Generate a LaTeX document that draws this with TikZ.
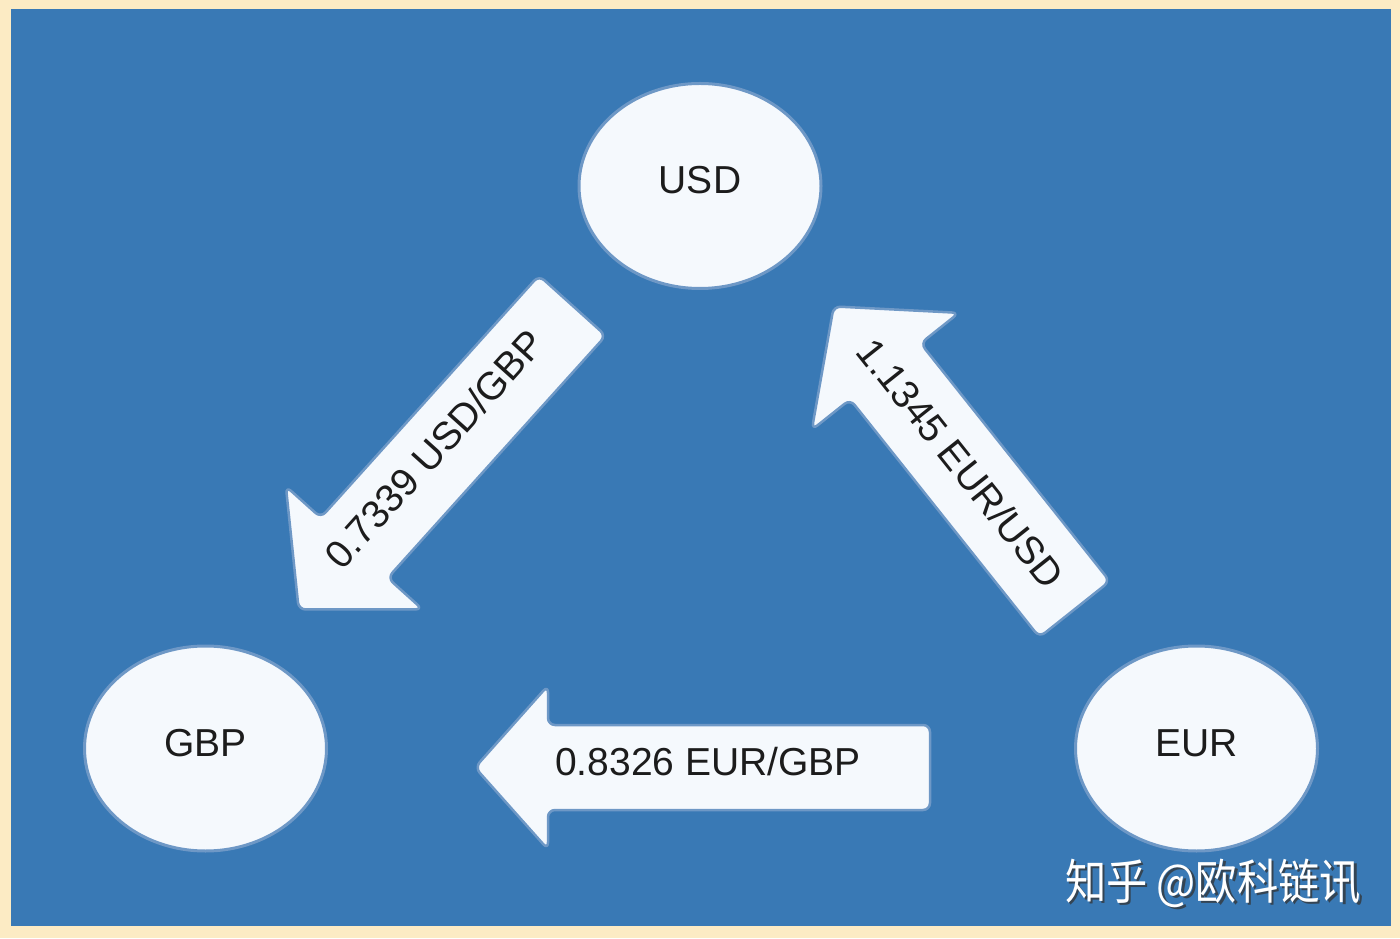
\documentclass[tikz,border=0pt]{standalone}
\usepackage{fontspec}
\setmainfont{Liberation Sans}
\newfontfamily\cjk{Noto Sans CJK SC}
\usetikzlibrary{shapes.geometric}
\definecolor{bgblue}{HTML}{3979B5}
\definecolor{cream}{HTML}{FCEBC4}
\definecolor{shapefill}{HTML}{F5F9FD}
\definecolor{edgeblue}{HTML}{6E98C6}
\definecolor{txt}{HTML}{1C1C1C}
% #1 tip x, #2 tip y, #3 angle, #4 length, #5 head half width, #6 head length, #7 shaft half width
\newcommand{\blockarrow}[7]{%
  \begin{scope}[shift={(#1,#2)}, rotate=#3]
    \draw[arrowbox] (0,0) -- (-#6,#5) -- (-#6,#7) -- (-#4,#7) -- (-#4,-#7)
      -- (-#6,-#7) -- (-#6,-#5) -- cycle;
  \end{scope}}
\tikzset{
  arrowbox/.style={fill=shapefill, draw=edgeblue, line width=2.5pt, rounded corners=7pt, line join=round},
  lbl/.style={font=\fontsize{39}{47}\selectfont, text=txt, text height=28pt, text depth=0pt, inner sep=0pt},
  cur/.style={ellipse, fill=shapefill, draw=edgeblue, line width=3pt, minimum width=242pt,
    minimum height=205pt, inner sep=0pt, font=\fontsize{39}{47}\selectfont, text=txt,
    text height=28pt, text depth=12pt},
  wm/.style={font=\cjk\fontsize{48}{56}\selectfont, xscale=0.86, inner sep=0pt}
}
\begin{document}
\begin{tikzpicture}[x=1pt, y=1pt]
  \useasboundingbox (0,0) rectangle (1400,938);
  \fill[cream] (0,0) rectangle (1400,938);
  \fill[bgblue] (11,12) rectangle (1391,929);

  % currencies
  \node[cur] (usd) at (700,752) {USD};
  \node[cur] (gbp) at (205.5,189.5) {GBP};
  \node[cur] (eur) at (1196.5,189.5) {EUR};

  % block arrows
  \blockarrow{298.7}{328.5}{228}{409}{92}{83}{45}
  \blockarrow{833.7}{631.6}{128.5}{387}{94}{83}{45}
  \blockarrow{475}{170.5}{180}{455}{82}{73}{42.5}

  % rates
  \node[lbl, rotate=48] (r1) at (434,489) {0.7339 USD/GBP};
  \node[lbl, rotate=-51.5] (r2) at (961,475) {1.1345 EUR/USD};
  \node[lbl] (r3) at (708,177) {0.8326 EUR/GBP};

  % watermark
  \node[wm, text=black!80, opacity=0.75] (wmshadow) at (1215.5,52.5) {知乎 @欧科链讯};
  \node[wm, text=white] (wmark) at (1213,55) {知乎 @欧科链讯};
\end{tikzpicture}
\end{document}
